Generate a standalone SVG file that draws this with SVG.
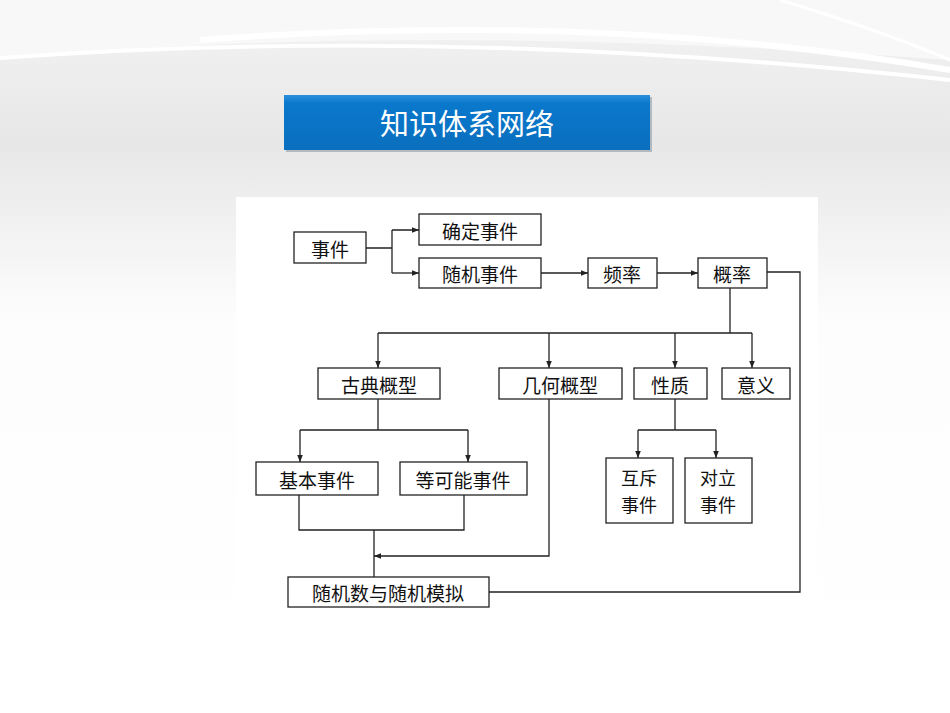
<svg xmlns="http://www.w3.org/2000/svg" width="950" height="713" viewBox="0 0 950 713">
<defs>
<linearGradient id="bg" x1="0" y1="0" x2="0" y2="1">
<stop offset="0" stop-color="#f4f4f4"/><stop offset="0.2" stop-color="#e7e7e7"/><stop offset="0.45" stop-color="#fdfdfd"/><stop offset="1" stop-color="#ffffff"/>
</linearGradient>
<linearGradient id="ban" x1="0" y1="0" x2="0" y2="1">
<stop offset="0" stop-color="#2a8fdc"/><stop offset="0.15" stop-color="#0a78cc"/><stop offset="1" stop-color="#0a6fbe"/>
</linearGradient>
<marker id="ar" viewBox="0 0 10 10" refX="10" refY="5" markerWidth="7" markerHeight="7" orient="auto" markerUnits="userSpaceOnUse"><path d="M0,1 L10,5 L0,9 z" fill="#222"/></marker>
<style>
.b{fill:#fff;stroke:#222;stroke-width:1.3}
.t{font-family:"Noto Sans CJK SC","Liberation Serif",serif;font-size:19px;fill:#111;text-anchor:middle;dominant-baseline:central}
.s{font-size:18px}
.c{fill:none;stroke:#222;stroke-width:1.3}
</style>
</defs>
<rect width="950" height="713" fill="url(#bg)"/>
<path d="M0,60 Q400,20 950,60 L950,0 L0,0 z" fill="#f8f8f8"/>
<path d="M200,40 Q600,10 950,70" fill="none" stroke="#fff" stroke-width="6"/>
<path d="M0,58 Q450,25 950,80" fill="none" stroke="#fff" stroke-width="4"/>
<path d="M780,0 Q880,30 950,60" fill="none" stroke="#fff" stroke-width="3"/>
<rect x="236" y="197" width="582" height="430" fill="#fff"/>
<g id="banner">
<rect x="286" y="97" width="366" height="55" fill="#7a8a9a" opacity="0.5"/>
<rect x="284" y="95" width="366" height="55" fill="url(#ban)"/>
<text x="467" y="122" font-family="Noto Sans CJK SC,sans-serif" font-size="29" fill="#fff" text-anchor="middle" dominant-baseline="central">知识体系网络</text>
</g>
<g id="connectors">
<path class="c" d="M366,248 H392 M392,230 V273 M392,230 H419" marker-end="url(#ar)"/>
<path class="c" d="M392,273 H419" marker-end="url(#ar)"/>
<path class="c" d="M541,273 H588" marker-end="url(#ar)"/>
<path class="c" d="M657,273 H698" marker-end="url(#ar)"/>
<path class="c" d="M767,272 H800 V592 H489"/>
<path class="c" d="M730,288 V333 M378,333 H752"/>
<path class="c" d="M378,333 V368" marker-end="url(#ar)"/>
<path class="c" d="M549,333 V368" marker-end="url(#ar)"/>
<path class="c" d="M675,333 V368" marker-end="url(#ar)"/>
<path class="c" d="M752,333 V368" marker-end="url(#ar)"/>
<path class="c" d="M378,399 V430 M300,430 H468"/>
<path class="c" d="M300,430 V462" marker-end="url(#ar)"/>
<path class="c" d="M468,430 V462" marker-end="url(#ar)"/>
<path class="c" d="M675,399 V430 M638,430 H716"/>
<path class="c" d="M638,430 V458" marker-end="url(#ar)"/>
<path class="c" d="M716,430 V458" marker-end="url(#ar)"/>
<path class="c" d="M299,495 V530 H464 V495 M374,530 V577"/>
<path class="c" d="M549,399 V556 H374" marker-end="url(#ar)"/>
</g>
<g id="n1"><rect class="b" x="294" y="232" width="72" height="31"/><text class="t" x="330" y="248">事件</text></g>
<g id="n2"><rect class="b" x="419" y="214" width="122" height="31"/><text class="t" x="480" y="230">确定事件</text></g>
<g id="n3"><rect class="b" x="419" y="258" width="122" height="30"/><text class="t" x="480" y="273">随机事件</text></g>
<g id="n4"><rect class="b" x="588" y="258" width="69" height="30"/><text class="t" x="622" y="273">频率</text></g>
<g id="n5"><rect class="b" x="698" y="258" width="69" height="30"/><text class="t" x="732" y="273">概率</text></g>
<g id="n6"><rect class="b" x="318" y="368" width="122" height="31"/><text class="t" x="379" y="384">古典概型</text></g>
<g id="n7"><rect class="b" x="499" y="368" width="123" height="31"/><text class="t" x="560" y="384">几何概型</text></g>
<g id="n8"><rect class="b" x="634" y="368" width="73" height="31"/><text class="t" x="670" y="384">性质</text></g>
<g id="n9"><rect class="b" x="722" y="368" width="68" height="31"/><text class="t" x="756" y="384">意义</text></g>
<g id="n10"><rect class="b" x="256" y="462" width="122" height="33"/><text class="t" x="317" y="479">基本事件</text></g>
<g id="n11"><rect class="b" x="400" y="462" width="127" height="33"/><text class="t" x="463" y="479">等可能事件</text></g>
<g id="n12"><rect class="b" x="606" y="458" width="67" height="65"/><text class="t s" x="639" y="477">互斥</text><text class="t s" x="639" y="504">事件</text></g>
<g id="n13"><rect class="b" x="685" y="458" width="67" height="65"/><text class="t s" x="718" y="477">对立</text><text class="t s" x="718" y="504">事件</text></g>
<g id="n14"><rect class="b" x="288" y="577" width="201" height="30"/><text class="t" x="388" y="592">随机数与随机模拟</text></g>
</svg>
